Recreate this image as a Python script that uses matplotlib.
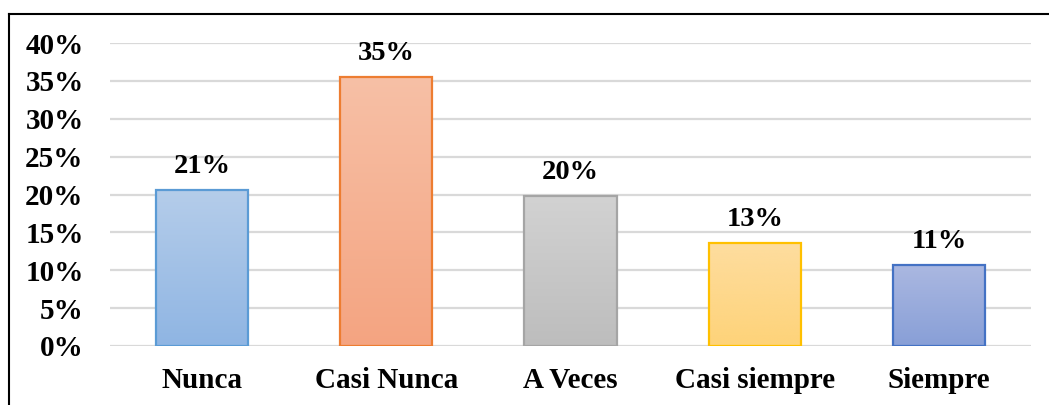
import matplotlib
matplotlib.use("Agg")
import matplotlib.pyplot as plt
import numpy as np
from matplotlib.colors import LinearSegmentedColormap
from matplotlib.lines import Line2D

categories = ["Nunca", "Casi Nunca", "A Veces", "Casi siempre", "Siempre"]
values = [20.6, 35.5, 19.8, 13.6, 10.7]
value_labels = ["21%", "35%", "20%", "13%", "11%"]
yticks = [0, 5, 10, 15, 20, 25, 30, 35, 40]
ytick_labels = ["0%", "5%", "10%", "15%", "20%", "25%", "30%", "35%", "40%"]

top_colors = ["#b5cdea", "#f7c0a6", "#d2d2d2", "#fedd9f", "#abb8e1"]
bottom_colors = ["#8fb5e3", "#f4a481", "#bdbdbd", "#fed379", "#889fd7"]
edge_colors = ["#5b9bd5", "#ed7d31", "#a5a5a5", "#ffc000", "#4472c4"]

plt.rcParams['font.family'] = ['Liberation Serif', 'DejaVu Serif']

fig = plt.figure(figsize=(10.49, 4.05), dpi=100)
ax = fig.add_axes([110/1049, 1-346/405, (1031-110)/1049, (346-43)/405])

x = np.arange(len(categories))
width = 0.5
bars = ax.bar(x, values, width=width, color="none", edgecolor="none", zorder=3)
grad = np.linspace(1, 0, 256).reshape(-1, 1)
for b, tc, bc, ec in zip(bars, top_colors, bottom_colors, edge_colors):
    x0, w, h = b.get_x(), b.get_width(), b.get_height()
    cmap = LinearSegmentedColormap.from_list("g", [bc, tc])
    im = ax.imshow(grad, cmap=cmap, extent=[x0, x0 + w, 0, h], aspect="auto",
                   origin="upper", zorder=3, interpolation="bicubic")
    im.set_clip_path(b)
    ax.add_patch(plt.Rectangle((x0, 0), w, h, fill=False, edgecolor=ec,
                               linewidth=1.6, zorder=4))

for xi, v, lab in zip(x, values, value_labels):
    ax.annotate(lab, (xi, v), xytext=(0, 8), textcoords="offset points",
                ha="center", va="bottom", fontsize=20.5, fontweight="bold")

ax.set_xlim(-0.5, 4.5)
ax.set_ylim(0, 40)
ax.set_yticks(yticks)
ax.set_yticklabels(ytick_labels, fontsize=21, fontweight="bold")
ax.set_xticks(x)
ax.set_xticklabels(categories, fontsize=21, fontweight="bold")
ax.tick_params(axis="y", length=0, pad=19)
ax.tick_params(axis="x", length=0, pad=15)
ax.yaxis.grid(True, color="#d9d9d9", linewidth=1.6, zorder=0)
ax.set_axisbelow(True)
for s in ax.spines.values():
    s.set_visible(False)

fig.add_artist(Line2D([9/1049, 1], [1-14/405, 1-14/405], color="black", linewidth=1.5))
fig.add_artist(Line2D([9/1049, 9/1049], [0, 1-14/405], color="black", linewidth=1.5))

fig.savefig("out.png", dpi=100)
